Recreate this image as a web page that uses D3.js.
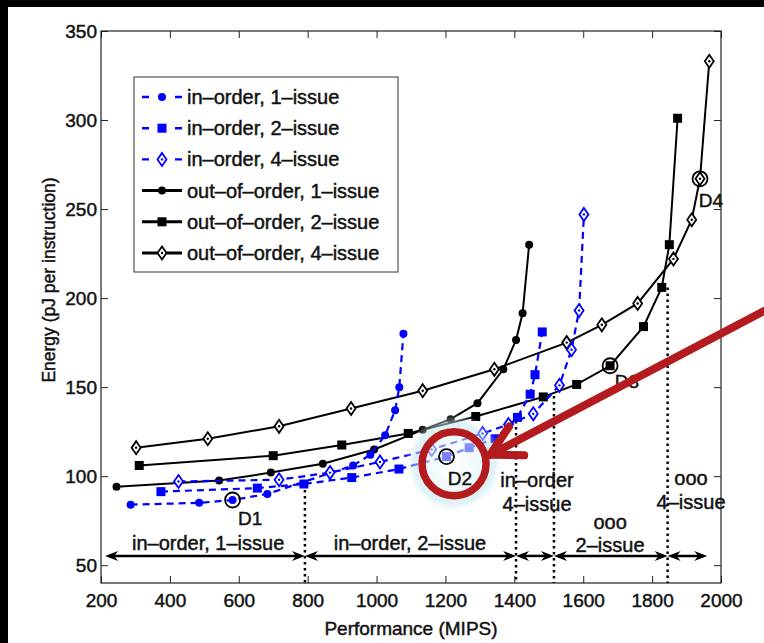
<!DOCTYPE html>
<html>
<head>
<meta charset="utf-8">
<script src="https://cdn.jsdelivr.net/npm/d3@7"></script>
<style>
  body { margin: 0; background: #fff; }
  svg { display: block; }
  text { font-family: "Liberation Sans", Arial, Helvetica, sans-serif; fill: #111; stroke: #111; stroke-width: 0.45px; }
</style>
</head>
<body>
<svg id="chart" width="764" height="643"></svg>
<script>
const xTicks = [200, 400, 600, 800, 1000, 1200, 1400, 1600, 1800, 2000];
const yTicks = [50, 100, 150, 200, 250, 300, 350];

// [MIPS, pJ/instr]
const inOrder1 = [[286, 84], [485, 85], [582, 86.6], [683, 90], [932, 106], [982, 112], [1025, 123], [1054, 137], [1066, 150], [1078, 180]];
const inOrder2 = [[374, 91.3], [654, 93.3], [789, 95.6], [928, 99.2], [1065, 104], [1203, 111], [1269, 116], [1344, 121], [1409, 133], [1446, 146], [1460, 157], [1481, 181]];
const inOrder4 = [[425, 97], [717, 98], [865, 102], [1010, 108], [1160, 115], [1308, 124], [1383, 129], [1455, 135], [1531, 151], [1566, 171], [1588, 193], [1602, 247]];
const ooo1 = [[245, 94], [543, 97.5], [693, 102], [844, 107], [993, 115], [1134, 126], [1215, 132], [1293, 141], [1368, 160], [1405, 176.5], [1424, 191.5], [1443, 230]];
const ooo2 = [[311, 106], [700, 111.5], [899, 117.5], [1092, 124], [1288, 133.5], [1484, 144.5], [1581, 151.5], [1678, 162], [1775, 184], [1828, 206], [1850, 230], [1874, 301]];
const ooo4 = [[302, 116], [510, 121], [717, 128], [926, 138], [1134, 148], [1342, 160], [1552, 175], [1654, 185], [1758, 197], [1862, 222], [1915, 244], [1939, 267], [1966, 333]];

const seriesNames = ['in–order, 1–issue', 'in–order, 2–issue', 'in–order, 4–issue',
  'out–of–order, 1–issue', 'out–of–order, 2–issue', 'out–of–order, 4–issue'];

// design points: label, point x, point y, text x, text y
const designPoints = [['D1', 582, 86.6, 633, 76.5], ['D2', 1203, 111, 1242, 99], ['D3', 1678, 162, 1727, 153], ['D4', 1939, 267, 1971, 255]];

// region boundaries (dotted lines) and arrow span
const boundaries = [[792, 95.6], [1405, 131], [1515, 145], [1845, 206]];
const arrowSpan = [212, 792, 1405, 1515, 1845, 1960];
const arrowLevel = 55.2;
const regionLabels = [
  ['in–order, 1–issue', 511, 62.5], ['in–order, 2–issue', 1097, 62.5],
  ['in–order', 1466, 97.8], ['4–issue', 1466, 84.4],
  ['ooo', 1678, 74.4], ['2–issue', 1678, 61.3],
  ['ooo', 1913, 99], ['4–issue', 1913, 85.5]
];

// red highlight
const highlight = { cx: 1225, cy: 107 };
const redArrow = { from: [2125, 192.8], to: [1330, 112] };

const BLUE = '#0000ff';
const RED = '#b31b1e';

const PLOT = { left: 101, right: 721, top: 31, bottom: 583 };

const svg = d3.select('#chart');

// black frame strips on top / left
svg.append('rect').attr('x', 0).attr('y', 0).attr('width', 764).attr('height', 7).attr('fill', '#000');
svg.append('rect').attr('x', 0).attr('y', 0).attr('width', 8).attr('height', 643).attr('fill', '#000');

const x = d3.scaleLinear().domain([200, 2000]).range([PLOT.left, PLOT.right]);
const y = d3.scaleLinear().domain([40, 350]).range([PLOT.bottom, PLOT.top]);

// axes
function styleAxis(g) {
  g.select('.domain').remove();
  g.selectAll('.tick line').attr('stroke', '#222').attr('stroke-width', 1);
  g.selectAll('.tick text').style('font-size', '19px').attr('fill', '#111');
}
svg.append('g')
  .attr('transform', 'translate(0,' + PLOT.bottom + ')')
  .call(d3.axisBottom(x).tickValues(xTicks).tickSize(-7).tickPadding(11).tickFormat(d3.format('d')))
  .call(styleAxis);
svg.append('g')
  .attr('transform', 'translate(' + PLOT.left + ',0)')
  .call(d3.axisLeft(y).tickValues(yTicks).tickSize(-7).tickPadding(4))
  .call(styleAxis);
svg.append('g')
  .attr('transform', 'translate(0,' + PLOT.top + ')')
  .call(d3.axisTop(x).tickValues(xTicks).tickSize(-7).tickFormat(''))
  .call(styleAxis);
svg.append('g')
  .attr('transform', 'translate(' + PLOT.right + ',0)')
  .call(d3.axisRight(y).tickValues(yTicks).tickSize(-7).tickFormat(''))
  .call(styleAxis);

svg.append('rect')
  .attr('x', PLOT.left).attr('y', PLOT.top)
  .attr('width', PLOT.right - PLOT.left).attr('height', PLOT.bottom - PLOT.top)
  .attr('fill', 'none').attr('stroke', '#222').attr('stroke-width', 1.2);

// axis titles
svg.append('text')
  .attr('x', (PLOT.left + PLOT.right) / 2).attr('y', 635)
  .attr('text-anchor', 'middle').style('font-size', '19px')
  .text('Performance (MIPS)');
svg.append('text')
  .attr('transform', 'translate(55,' + 280 + ') rotate(-90)')
  .attr('text-anchor', 'middle').style('font-size', '17.5px')
  .text('Energy (pJ per instruction)');

// markers
function drawMarker(g, type, color) {
  if (type === 'dot') {
    g.append('circle').attr('r', 4).attr('fill', color);
  } else if (type === 'square') {
    g.append('rect').attr('x', -4.5).attr('y', -4.5).attr('width', 9).attr('height', 9).attr('fill', color);
  } else {
    g.append('path').attr('d', 'M0,-6.5L4.5,0L0,6.5L-4.5,0Z')
      .attr('fill', '#fff').attr('stroke', color).attr('stroke-width', 1.8);
    g.append('circle').attr('r', 1.2).attr('fill', color);
  }
}

const line = d3.line().x(d => x(d[0])).y(d => y(d[1]));

const series = [
  { data: ooo1, color: '#000', dashed: false, marker: 'dot' },
  { data: ooo2, color: '#000', dashed: false, marker: 'square' },
  { data: ooo4, color: '#000', dashed: false, marker: 'diamond' },
  { data: inOrder1, color: BLUE, dashed: true, marker: 'dot' },
  { data: inOrder2, color: BLUE, dashed: true, marker: 'square' },
  { data: inOrder4, color: BLUE, dashed: true, marker: 'diamond' }
];

// dotted boundaries
svg.append('g').selectAll('line')
  .data(boundaries)
  .enter()
  .append('line')
  .attr('x1', d => x(d[0])).attr('x2', d => x(d[0]))
  .attr('y1', d => y(d[1])).attr('y2', PLOT.bottom)
  .attr('stroke', '#000').attr('stroke-width', 2.5)
  .attr('stroke-dasharray', '2.5,3.5');

series.forEach(s => {
  const g = svg.append('g');
  g.append('path')
    .attr('d', line(s.data))
    .attr('fill', 'none')
    .attr('stroke', s.color)
    .attr('stroke-width', s.dashed ? 2.2 : 2)
    .attr('stroke-dasharray', s.dashed ? '7,5' : null);
  g.selectAll('g')
    .data(s.data)
    .enter()
    .append('g')
    .attr('transform', d => 'translate(' + x(d[0]) + ',' + y(d[1]) + ')')
    .each(function () { drawMarker(d3.select(this), s.marker, s.color); });
});

// region arrows
const arrows = svg.append('g');
function arrowHead(xTip, yTip, dir) {
  const L = 13, W = 5, back = 9;
  arrows.append('path')
    .attr('d', 'M' + xTip + ',' + yTip +
      'L' + (xTip - dir * L) + ',' + (yTip - W) +
      'L' + (xTip - dir * back) + ',' + yTip +
      'L' + (xTip - dir * L) + ',' + (yTip + W) + 'Z')
    .attr('fill', '#000');
}
for (let i = 0; i < arrowSpan.length - 1; i++) {
  const a = x(arrowSpan[i]), b = x(arrowSpan[i + 1]), yy = y(arrowLevel);
  arrows.append('line')
    .attr('x1', a + 4).attr('x2', b - 4).attr('y1', yy).attr('y2', yy)
    .attr('stroke', '#000').attr('stroke-width', 2.5);
  arrowHead(a, yy, -1);
  arrowHead(b, yy, 1);
}

regionLabels.forEach(d => {
  svg.append('text')
    .attr('x', x(d[1])).attr('y', y(d[2]))
    .attr('dy', '0.35em').attr('text-anchor', 'middle')
    .style('font-size', '20px')
    .text(d[0]);
});

// legend
const legend = svg.append('g');
legend.append('rect')
  .attr('x', 134).attr('y', 77).attr('width', 264).attr('height', 195)
  .attr('fill', '#fff').attr('stroke', '#333').attr('stroke-width', 1);
const legendOrder = [3, 4, 5, 0, 1, 2];
legendOrder.forEach((si, i) => {
  const s = series[si];
  const yy = 97 + i * 31.2;
  legend.append('line')
    .attr('x1', 142).attr('x2', 182).attr('y1', yy).attr('y2', yy)
    .attr('stroke', s.color)
    .attr('stroke-width', s.dashed ? 2.4 : 3)
    .attr('stroke-dasharray', s.dashed ? '7,26,7' : null);
  const g = legend.append('g').attr('transform', 'translate(162,' + yy + ')');
  drawMarker(g, s.marker, s.color);
  legend.append('text')
    .attr('x', 187).attr('y', yy).attr('dy', '0.35em')
    .style('font-size', '20px')
    .text(seriesNames[i]);
});

// highlight halo
const defs = svg.append('defs');
const grad = defs.append('radialGradient').attr('id', 'halo');
grad.append('stop').attr('offset', '0%').attr('stop-color', '#ffffff').attr('stop-opacity', 0.45);
grad.append('stop').attr('offset', '55%').attr('stop-color', '#e2f4f8').attr('stop-opacity', 0.6);
grad.append('stop').attr('offset', '80%').attr('stop-color', '#c3e6ee').attr('stop-opacity', 0.55);
grad.append('stop').attr('offset', '100%').attr('stop-color', '#ffffff').attr('stop-opacity', 0);

svg.append('circle')
  .attr('cx', x(highlight.cx)).attr('cy', y(highlight.cy)).attr('r', 50)
  .attr('fill', 'url(#halo)');

// design points (above the halo)
designPoints.forEach(d => {
  svg.append('circle')
    .attr('cx', x(d[1])).attr('cy', y(d[2])).attr('r', 7.5)
    .attr('fill', 'none').attr('stroke', '#000').attr('stroke-width', 1.8);
  svg.append('text')
    .attr('x', x(d[3])).attr('y', y(d[4]))
    .attr('dy', '0.35em').attr('text-anchor', 'middle')
    .style('font-size', '19px')
    .text(d[0]);
});

// red ring + arrow
svg.append('circle')
  .attr('cx', x(highlight.cx)).attr('cy', y(highlight.cy)).attr('r', 32)
  .attr('fill', 'none').attr('stroke', RED).attr('stroke-width', 7.5);

const fx = x(redArrow.from[0]), fy = y(redArrow.from[1]);
const tx = x(redArrow.to[0]), ty = y(redArrow.to[1]);
const ang = Math.atan2(fy - ty, fx - tx);
const red = svg.append('g')
  .attr('stroke', RED).attr('stroke-width', 8).attr('stroke-linecap', 'round').attr('fill', 'none');
red.append('line').attr('x1', fx).attr('y1', fy).attr('x2', tx).attr('y2', ty);
[-0.5, 0.5].forEach(da => {
  red.append('line')
    .attr('x1', tx).attr('y1', ty)
    .attr('x2', tx + 34 * Math.cos(ang + da))
    .attr('y2', ty + 34 * Math.sin(ang + da));
});
</script>
</body>
</html>
